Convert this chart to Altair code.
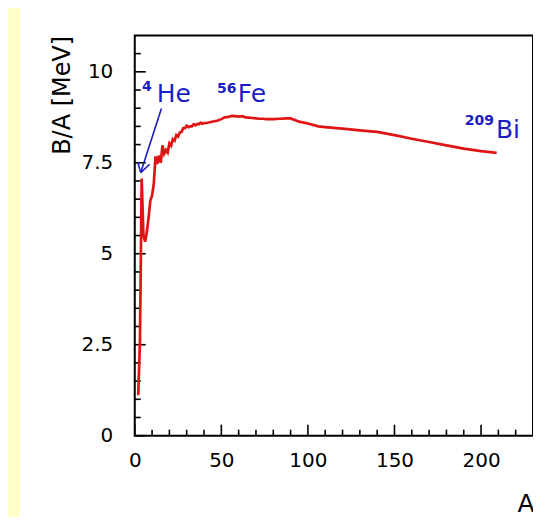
import altair as alt
import pandas as pd

# ---- data ----
mass_A = [2, 3, 4, 5, 6, 7, 8, 9, 10, 11, 12, 13, 14, 15, 16, 17, 18, 19, 20,
          21, 22, 23, 24, 25, 26, 27, 28, 29, 30, 31, 32, 33, 34, 35, 36, 37,
          38, 39, 40, 42, 44, 46, 48, 50, 52, 54, 56, 58, 60, 62, 64, 66, 68,
          70, 72, 74, 76, 78, 80, 84, 88, 90, 95, 100, 106, 110, 120, 130,
          140, 150, 160, 170, 180, 190, 200, 209]
binding_per_A = [1.11, 2.6, 7.07, 5.5, 5.33, 5.61, 6.0, 6.46, 6.6, 6.93, 7.68,
                 7.47, 7.7, 7.5, 7.98, 7.75, 7.85, 7.78, 8.03, 7.97, 8.15,
                 8.11, 8.26, 8.22, 8.33, 8.35, 8.45, 8.45, 8.52, 8.48, 8.5,
                 8.5, 8.56, 8.53, 8.57, 8.56, 8.6, 8.57, 8.59, 8.6, 8.62,
                 8.64, 8.66, 8.7, 8.75, 8.76, 8.79, 8.78, 8.77, 8.78, 8.75,
                 8.74, 8.73, 8.72, 8.71, 8.71, 8.7, 8.7, 8.7, 8.71, 8.72,
                 8.72, 8.63, 8.58, 8.5, 8.48, 8.44, 8.39, 8.35, 8.26, 8.16,
                 8.07, 7.98, 7.89, 7.82, 7.77]

x_domain = [0, 230]
y_domain = [0, 11]
x_major = [0, 50, 100, 150, 200]
x_minor = [10, 20, 30, 40, 60, 70, 80, 90, 110, 120, 130, 140, 160, 170,
           180, 190, 210, 220]
y_major = [0, 2.5, 5, 7.5, 10]
y_minor = [0.5, 1, 1.5, 2, 3, 3.5, 4, 4.5, 5.5, 6, 6.5, 7, 8, 8.5, 9, 9.5,
           10.5]

label_text = ["He", "Fe", "Bi"]
label_x = [12.7, 59.5, 208.6]
label_y = [9.16, 9.16, 8.18]
sup_text = ["4", "56", "209"]
sup_x = [9.8, 58.8, 207.5]
sup_y = [9.47, 9.41, 8.53]

# arrow (shaft + two head strokes) for 4He
arrow_x0 = [15.4, 3.46, 3.46]
arrow_y0 = [8.99, 7.23, 7.23]
arrow_x1 = [3.46, 1.7, 8.6]
arrow_y1 = [7.23, 7.52, 7.46]

# ---- layout ----
W, H = 399, 401
FONT = "DejaVu Sans"
BLUE = "#1c1cc4"
RED = "#e01414"
MAJOR_PX, MINOR_PX = 11, 6
px_per_x = W / (x_domain[1] - x_domain[0])
px_per_y = H / (y_domain[1] - y_domain[0])

xscale = alt.Scale(domain=x_domain, nice=False, zero=False)
yscale = alt.Scale(domain=y_domain, nice=False, zero=False)

xaxis = alt.Axis(values=x_major, ticks=False, domain=False,
                 grid=False, labelFont=FONT, labelFontSize=20,
                 labelColor="black", labelPadding=15, labelFlush=False,
                 labelOverlap=False, labelExpr="datum.value + ''",
                 title="A", titleFont=FONT,
                 titleFontSize=25, titleFontWeight="normal",
                 titleColor="black", titleX=W + 1, titleY=76,
                 titleAlign="right", titleBaseline="alphabetic")
yaxis = alt.Axis(values=y_major, ticks=False, domain=False,
                 grid=False, labelFont=FONT, labelFontSize=20,
                 labelColor="black", labelPadding=22, labelFlush=False,
                 labelOverlap=False, labelExpr="datum.value + ''",
                 title="B/A [MeV]",
                 titleFont=FONT, titleFontSize=24, titleFontWeight="normal",
                 titleColor="black", titleX=-65, titleY=0, titleAngle=270,
                 titleAlign="right", titleBaseline="alphabetic")

curve = pd.DataFrame({"A": mass_A, "BA": binding_per_A})

# pale yellow strip along the left edge of the page
strip = alt.Chart(pd.DataFrame({"d": [0]})).mark_rect(
    color="#FFFFC8").encode(
    x=alt.value(-128), x2=alt.value(-115),
    y=alt.value(-30), y2=alt.value(H + 90))

line = alt.Chart(curve).mark_line(color=RED, strokeWidth=2.7).encode(
    x=alt.X("A:Q", scale=xscale, axis=xaxis),
    y=alt.Y("BA:Q", scale=yscale, axis=yaxis))


def seg_layer(df, color, width):
    return alt.Chart(df).mark_rule(color=color, strokeWidth=width).encode(
        x=alt.X("x0:Q", scale=xscale, axis=xaxis),
        y=alt.Y("y0:Q", scale=yscale, axis=yaxis),
        x2="x1:Q", y2="y1:Q")


def yticks(vals, length_px):
    L = length_px / px_per_x
    df = pd.DataFrame({"y0": vals, "y1": vals,
                       "x0": [float(x_domain[0])] * len(vals),
                       "x1": [x_domain[0] + L] * len(vals)})
    return seg_layer(df, "black", 1.6)


def xticks(vals, length_px):
    L = length_px / px_per_y
    df = pd.DataFrame({"x0": vals, "x1": vals,
                       "y0": [float(y_domain[0])] * len(vals),
                       "y1": [y_domain[0] + L] * len(vals)})
    return seg_layer(df, "black", 1.6)


arrow = seg_layer(pd.DataFrame({"x0": arrow_x0, "y0": arrow_y0,
                                "x1": arrow_x1, "y1": arrow_y1}), BLUE, 1.6)

labels = alt.Chart(pd.DataFrame({"t": label_text, "x": label_x,
                                 "y": label_y})).mark_text(
    font=FONT, fontSize=25, color=BLUE, align="left",
    baseline="alphabetic").encode(
    x=alt.X("x:Q", scale=xscale, axis=xaxis),
    y=alt.Y("y:Q", scale=yscale, axis=yaxis), text="t:N")

sups = alt.Chart(pd.DataFrame({"t": sup_text, "x": sup_x,
                               "y": sup_y})).mark_text(
    font=FONT, fontSize=14, fontWeight="bold", color=BLUE, align="right",
    baseline="alphabetic").encode(
    x=alt.X("x:Q", scale=xscale, axis=xaxis),
    y=alt.Y("y:Q", scale=yscale, axis=yaxis), text="t:N")

chart = alt.layer(
    strip, yticks(y_major, MAJOR_PX), yticks(y_minor, MINOR_PX),
    xticks(x_major, MAJOR_PX), xticks(x_minor, MINOR_PX), line, arrow,
    labels, sups
).properties(
    width=W, height=H,
    autosize=alt.AutoSizeParams(type="none"),
    padding={"left": 127, "top": 27, "right": 0, "bottom": 81},
    background="white"
).configure_view(stroke="black", strokeWidth=2, fill="white")

chart.save("out.html", embed_options={"renderer": "svg", "actions": False})
